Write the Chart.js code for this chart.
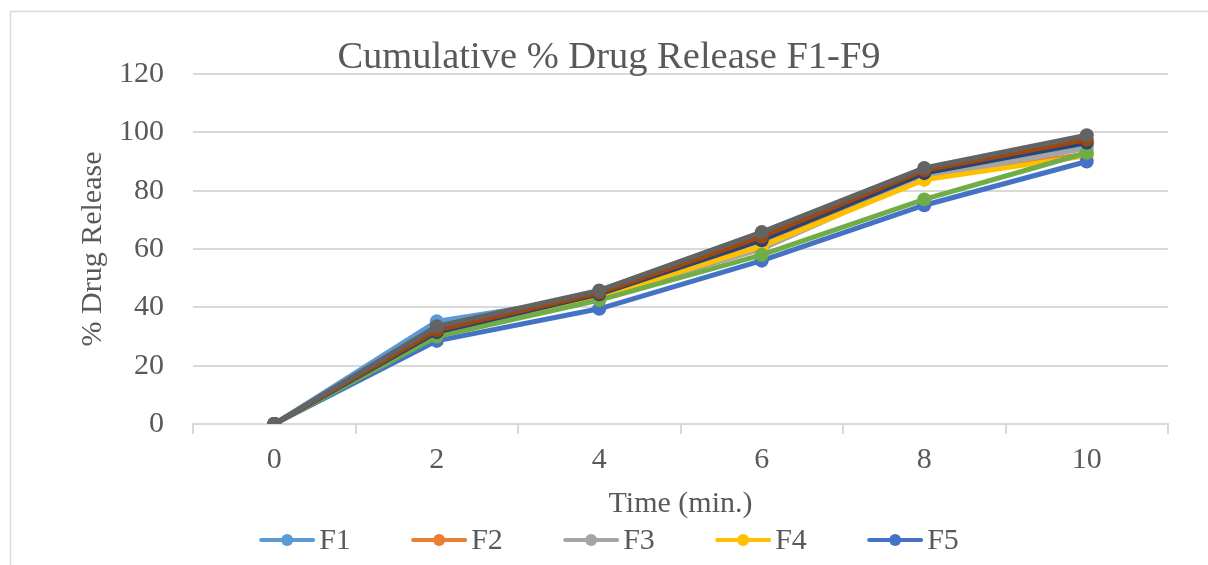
<!DOCTYPE html>
<html>
<head>
<meta charset="utf-8">
<script src="https://cdn.jsdelivr.net/npm/chart.js@4/dist/chart.umd.min.js"></script>
<style>
  html, body { margin: 0; padding: 0; background: #fff; overflow: hidden; }
  #wrap { width: 1208px; height: 565px; }
</style>
</head>
<body>
<div id="wrap"><canvas id="releaseChart"></canvas></div>
<script>
// data
const times = ['0', '2', '4', '6', '8', '10'];
const names = ['F1', 'F2', 'F3', 'F4', 'F5', 'F6', 'F7', 'F8', 'F9'];
const f1 = [0, 35.2, 44.0, 60.5, 84.5, 95.5];
const f2 = [0, 31.0, 44.2, 61.0, 85.0, 92.5];
const f3 = [0, 30.5, 43.5, 60.0, 84.8, 94.5];
const f4 = [0, 31.0, 43.6, 61.0, 83.7, 92.0];
const f5 = [0, 28.5, 39.5, 56.0, 75.0, 90.0];
const f6 = [0, 30.0, 42.5, 58.0, 77.0, 93.0];
const f7 = [0, 31.5, 44.5, 63.0, 86.0, 96.5];
const f8 = [0, 32.2, 45.0, 64.2, 87.0, 97.5];
const f9 = [0, 33.5, 45.8, 65.8, 87.8, 99.0];
const yMin = 0, yMax = 120, yStep = 20;

const colors = ['#5B9BD5', '#ED7D31', '#A5A5A5', '#FFC000', '#4472C4', '#70AD47', '#264478', '#9E480E', '#636363'];
const series = [f1, f2, f3, f4, f5, f6, f7, f8, f9];
const textColor = '#595959';
const gridColor = '#d9d9d9';
const serif = '"Liberation Serif", "Times New Roman", serif';

// outer frame like the Excel chart border
const framePlugin = {
    id: 'frame',
    beforeDraw(chart) {
        const ctx = chart.ctx;
        ctx.save();
        ctx.fillStyle = '#fff';
        ctx.fillRect(0, 0, chart.width, chart.height);
        ctx.strokeStyle = gridColor;
        ctx.lineWidth = 1.5;
        ctx.strokeRect(10.5, 11.5, chart.width + 20, chart.height + 20);
        ctx.restore();
    }
};

// legend: rows of five, line + marker, second row falls below the picture
const legendPlugin = {
    id: 'lineLegend',
    afterDraw(chart) {
        const ctx = chart.ctx;
        const step = 152, lineLen = 56, textGap = 60, perRow = 5;
        ctx.save();
        ctx.font = '30px ' + serif;
        ctx.textBaseline = 'middle';
        ctx.textAlign = 'left';
        for (let r = 0; r * perRow < names.length; r++) {
            const items = names.slice(r * perRow, r * perRow + perRow);
            const lastW = ctx.measureText(items[items.length - 1]).width;
            const total = (items.length - 1) * step + textGap + lastW;
            let x = (10 + chart.width) / 2 - total / 2;
            const y = 540 + r * 40;
            items.forEach((name, k) => {
                const c = colors[r * perRow + k];
                ctx.strokeStyle = c;
                ctx.lineWidth = 4;
                ctx.lineCap = 'round';
                ctx.beginPath();
                ctx.moveTo(x + 2, y);
                ctx.lineTo(x + lineLen - 2, y);
                ctx.stroke();
                ctx.fillStyle = c;
                ctx.beginPath();
                ctx.arc(x + lineLen / 2, y, 6, 0, Math.PI * 2);
                ctx.fill();
                ctx.fillStyle = textColor;
                ctx.fillText(name, x + textGap, y + 1);
                x += step;
            });
        }
        ctx.restore();
    }
};

const ctx = document.getElementById('releaseChart').getContext('2d');
const releaseChart = new Chart(ctx, {
    type: 'line',
    data: {
        labels: times,
        datasets: series.map((d, i) => ({
            label: names[i],
            data: d,
            borderColor: colors[i],
            backgroundColor: colors[i],
            pointBackgroundColor: colors[i],
            pointBorderColor: colors[i],
            borderWidth: 5,
            pointRadius: 7,
            pointBorderWidth: 0,
            tension: 0,
            order: series.length - i
        }))
    },
    options: {
        responsive: true,
        maintainAspectRatio: false,
        animation: false,
        layout: { padding: { left: 10, top: 11, right: 0, bottom: 40 } },
        plugins: {
            legend: { display: false },
            tooltip: { enabled: false },
            title: {
                display: true,
                text: 'Cumulative % Drug Release F1-F9',
                color: textColor,
                font: { family: serif, size: 38.5, weight: 'normal', lineHeight: '38px' },
                padding: { top: 28, bottom: -3 }
            }
        },
        scales: {
            x: {
                offset: true,
                grid: {
                    offset: true,
                    drawOnChartArea: false,
                    drawTicks: true,
                    tickLength: 10,
                    color: gridColor,
                    lineWidth: 2
                },
                border: { display: true, color: gridColor, width: 2 },
                ticks: { color: textColor, font: { family: serif, size: 30 }, padding: 8, maxRotation: 0 },
                title: {
                    display: true,
                    text: 'Time (min.)',
                    color: textColor,
                    font: { family: serif, size: 30, lineHeight: 1.2 },
                    padding: { top: 0, bottom: 3 }
                },
                afterFit(axis) { axis.height = 101; }
            },
            y: {
                min: yMin,
                max: yMax,
                ticks: { stepSize: yStep, color: textColor, font: { family: serif, size: 30 }, padding: 29 },
                grid: { color: gridColor, lineWidth: 2, drawTicks: false },
                border: { display: false },
                title: {
                    display: true,
                    text: '% Drug Release',
                    color: textColor,
                    font: { family: serif, size: 30, lineHeight: 1.2 },
                    padding: { top: 65, bottom: 0 }
                },
                afterFit(axis) { axis.width = 183; }
            },
            yRight: {
                position: 'right',
                display: true,
                grid: { display: false },
                border: { display: false },
                ticks: { display: false },
                afterFit(axis) { axis.width = 40; }
            }
        }
    },
    plugins: [framePlugin, legendPlugin]
});
</script>
</body>
</html>
